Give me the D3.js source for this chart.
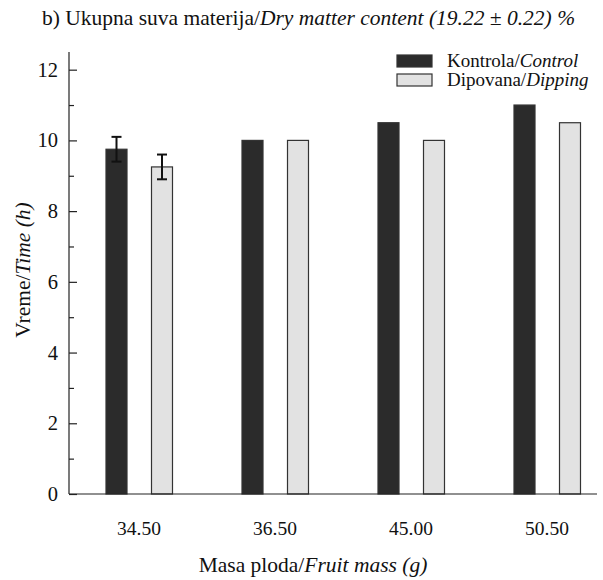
<!DOCTYPE html>
<html>
<head>
<meta charset="utf-8">
<script src="https://cdn.jsdelivr.net/npm/d3@7"></script>
<style>
  body { margin: 0; background: #fff; }
  svg text { font-family: 'Liberation Serif', 'DejaVu Serif', 'Times New Roman', Times, serif; fill: #111; }
</style>
</head>
<body>
<div id="chart"></div>
<script>
// data
const masses = ["34.50", "36.50", "45.00", "50.50"];
const controlVals = [9.75, 10, 10.5, 11];
const dippingVals = [9.25, 10, 10, 10.5];
const controlErr = [0.35, 0, 0, 0];
const dippingErr = [0.35, 0, 0, 0];
const seriesNames = ["Kontrola/", "Dipovana/"];
const seriesItalic = ["Control", "Dipping"];
const seriesColors = ["#2b2b2b", "#e2e2e2"];
const yTicks = [0, 2, 4, 6, 8, 10, 12];
const yMinor = [1, 3, 5, 7, 9, 11];

const width = 603, height = 580;
const margin = {top: 52, right: 5, bottom: 86, left: 69};
const plotW = width - margin.left - margin.right;
const plotH = height - margin.top - margin.bottom;
const FONT = "'Liberation Serif', 'DejaVu Serif', serif";

let svg = d3.select("#chart")
    .append("svg")
    .attr("width", width)
    .attr("height", height)
    .attr("font-family", FONT);

let g = svg.append("g")
    .attr("transform", `translate(${margin.left}, ${margin.top})`);

let y = d3.scaleLinear()
    .domain([0, 12.5])
    .range([plotH, 0]);

let x = d3.scaleBand()
    .domain(masses)
    .range([2, 546]);

let barW = 21;
let offsets = [-22.5, 23];

let series = [
    {vals: controlVals, err: controlErr},
    {vals: dippingVals, err: dippingErr}
];

function cx(m, i){ return x(m) + x.bandwidth()/2 + offsets[i]; }

series.forEach(function(s, i){
    let data = masses.map(function(m, j){ return {m: m, v: s.vals[j], e: s.err[j]}; });

    g.selectAll(".bar" + i)
        .data(data)
        .enter()
        .append("rect")
        .attr("x", function(d){ return cx(d.m, i) - barW/2; })
        .attr("y", function(d){ return y(d.v); })
        .attr("width", barW)
        .attr("height", function(d){ return y(0) - y(d.v); })
        .attr("fill", seriesColors[i])
        .attr("stroke", "#333")
        .attr("stroke-width", 1.2);

    // error bars
    let errs = data.filter(function(d){ return d.e > 0; });
    let eg = g.selectAll(".err" + i)
        .data(errs)
        .enter()
        .append("g")
        .attr("stroke", "#111")
        .attr("stroke-width", 2);
    eg.append("line")
        .attr("x1", function(d){ return cx(d.m, i); })
        .attr("x2", function(d){ return cx(d.m, i); })
        .attr("y1", function(d){ return y(d.v + d.e); })
        .attr("y2", function(d){ return y(d.v - d.e); });
    [1, -1].forEach(function(sign){
        eg.append("line")
            .attr("x1", function(d){ return cx(d.m, i) - 5; })
            .attr("x2", function(d){ return cx(d.m, i) + 5; })
            .attr("y1", function(d){ return y(d.v + sign*d.e); })
            .attr("y2", function(d){ return y(d.v + sign*d.e); });
    });
});

// y axis: major ticks pointing inward, minor ticks shorter
let yAxis = g.append("g")
    .call(d3.axisRight(y).tickValues(yTicks).tickSize(8).tickFormat(""));
yAxis.select(".domain").attr("d", `M0,${y(12.5)}V${plotH}`);
g.append("g")
    .call(d3.axisRight(y).tickValues(yMinor).tickSize(5).tickFormat(""))
    .select(".domain").remove();
g.selectAll(".tick line").attr("stroke", "#222").attr("stroke-width", 1.2);
yAxis.select(".domain").attr("stroke", "#222").attr("stroke-width", 1.2);

g.selectAll(".ylab")
    .data(yTicks)
    .enter()
    .append("text")
    .attr("x", -11)
    .attr("y", function(d){ return y(d) + 7; })
    .style("text-anchor", "end")
    .style("font-size", "20.5px")
    .text(function(d){ return d; });

// x axis line
g.append("line")
    .attr("x1", 0).attr("x2", plotW - 1)
    .attr("y1", plotH).attr("y2", plotH)
    .attr("stroke", "#222")
    .attr("stroke-width", 1.2);

g.selectAll(".xlab")
    .data(masses)
    .enter()
    .append("text")
    .attr("x", function(d){ return x(d) + x.bandwidth()/2; })
    .attr("y", plotH + 41)
    .style("text-anchor", "middle")
    .style("font-size", "19.5px")
    .text(function(d){ return d; });

// axis titles
let xt = svg.append("text")
    .attr("x", 313)
    .attr("y", 572)
    .style("text-anchor", "middle")
    .style("font-size", "21.5px");
xt.append("tspan").text("Masa ploda/");
xt.append("tspan").style("font-style", "italic").text("Fruit mass (g)");

let yt = svg.append("text")
    .attr("transform", "translate(30, 270) rotate(-90)")
    .style("text-anchor", "middle")
    .style("font-size", "21.5px");
yt.append("tspan").text("Vreme/");
yt.append("tspan").style("font-style", "italic").text("Time (h)");

// title
let title = svg.append("text")
    .attr("x", 42)
    .attr("y", 25)
    .style("font-size", "21.5px");
title.append("tspan").text("b) Ukupna suva materija/");
title.append("tspan").style("font-style", "italic").text("Dry matter content (19.22 \u00b1 0.22) %");

// legend
let legend = svg.append("g").attr("transform", "translate(397, 55)");
seriesNames.forEach(function(name, i){
    let row = legend.append("g").attr("transform", `translate(0, ${i * 19})`);
    row.append("rect")
        .attr("width", 35)
        .attr("height", 12)
        .attr("fill", seriesColors[i])
        .attr("stroke", "#333")
        .attr("stroke-width", 1.2);
    let t = row.append("text")
        .attr("x", 50)
        .attr("y", 12)
        .style("font-size", "19px");
    t.append("tspan").text(name);
    t.append("tspan").style("font-style", "italic").text(seriesItalic[i]);
});
</script>
</body>
</html>
